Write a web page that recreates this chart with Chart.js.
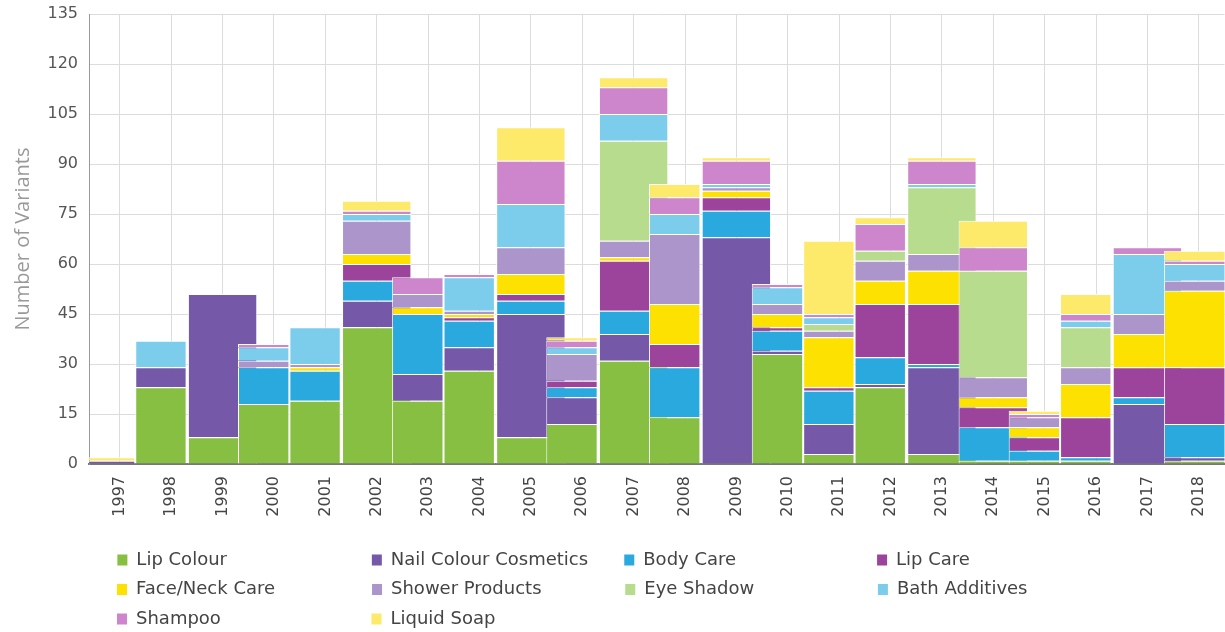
<!DOCTYPE html>
<html>
<head>
<meta charset="utf-8">
<script src="https://cdn.jsdelivr.net/npm/chart.js@4.4.1/dist/chart.umd.min.js"></script>
<style>
  html, body { margin: 0; padding: 0; background: #fff; overflow: hidden; }
  #wrap { position: relative; width: 1230px; height: 638px; }
</style>
</head>
<body>
<div id="wrap"><canvas id="myChart"></canvas></div>
<script>
const years = ['1997', '1998', '1999', '2000', '2001', '2002', '2003', '2004', '2005', '2006', '2007',
               '2008', '2009', '2010', '2011', '2012', '2013', '2014', '2015', '2016', '2017', '2018'];

const seriesNames = ['Lip Colour', 'Nail Colour Cosmetics', 'Body Care', 'Lip Care', 'Face/Neck Care',
                     'Shower Products', 'Eye Shadow', 'Bath Additives', 'Shampoo', 'Liquid Soap'];
const colours = ['#86bf42', '#7559a8', '#29a9de', '#9c449c', '#fde100',
                 '#ab95cb', '#b7dc8e', '#7ccdec', '#cd85cc', '#fde96a'];

// values per year, 1997 .. 2018 (stack order: first series at the bottom)
const lipColour     = [0, 23, 8, 18, 19, 41, 19, 28, 8, 12, 31, 14, 0, 33, 3, 23, 3, 1, 1, 1, 0, 1];
const nailColour    = [1, 6, 43, 0, 0, 8, 8, 7, 37, 8, 8, 0, 68, 1, 9, 1, 26, 0, 0, 0, 18, 1];
const bodyCare      = [0, 0, 0, 11, 9, 6, 18, 8, 4, 3, 7, 15, 8, 6, 10, 8, 1, 10, 3, 1, 2, 10];
const lipCare       = [0, 0, 0, 0, 0, 5, 0, 1, 2, 2, 15, 7, 4, 1, 1, 16, 18, 6, 4, 12, 9, 17];
const faceNeckCare  = [0, 0, 0, 0, 1, 3, 2, 1, 6, 0, 1, 12, 2, 4, 15, 7, 10, 3, 3, 10, 10, 23];
const showerProd    = [0, 0, 0, 2, 1, 10, 4, 1, 8, 8, 5, 21, 1, 3, 2, 6, 5, 6, 3, 5, 6, 3];
const eyeShadow     = [0, 0, 0, 0, 0, 0, 0, 0, 0, 0, 30, 0, 0, 0, 2, 3, 20, 32, 0, 12, 0, 0];
const bathAdditives = [0, 8, 0, 4, 11, 2, 0, 10, 13, 2, 8, 6, 1, 5, 2, 0, 1, 0, 0, 2, 18, 5];
const shampoo       = [0, 0, 0, 1, 0, 1, 5, 1, 13, 2, 8, 5, 7, 1, 1, 8, 7, 7, 1, 2, 2, 1];
const liquidSoap    = [1, 0, 0, 0, 0, 3, 0, 0, 10, 1, 3, 4, 1, 0, 22, 2, 1, 8, 1, 6, 0, 3];

const yMax = 135;
const yStep = 15;

const seriesValues = [lipColour, nailColour, bodyCare, lipCare, faceNeckCare,
                      showerProd, eyeShadow, bathAdditives, shampoo, liquidSoap];

// every bar in the original is wider than its slot and gets covered by the next year,
// so it only sticks out where the next year is shorter -> draw those in a lower layer
const totals = years.map((_, i) => seriesValues.reduce((s, arr) => s + arr[i], 0));
const layerOf = [];
years.forEach((_, i) => {
    const wide = i === years.length - 1 || totals[i + 1] < totals[i];
    layerOf.push(!wide ? 'A' : (layerOf[i - 1] === 'B' ? 'C' : 'B'));
});
const layers = [
    {id: 'A', axis: 'xn', order: 0, width: 1},
    {id: 'C', axis: 'x', order: 1, width: 1.35},
    {id: 'B', axis: 'x', order: 2, width: 1.35}
];

const datasets = [];
for (const layer of layers) {
    seriesNames.forEach((name, k) => {
        datasets.push({
            label: name,
            data: years.map((_, i) => ({
                x: i,
                y: layerOf[i] === layer.id && seriesValues[k][i] ? seriesValues[k][i] : null
            })),
            backgroundColor: colours[k],
            borderColor: '#ffffff',
            borderWidth: {top: 1, left: 1, right: 1, bottom: 0},
            borderSkipped: false,
            inflateAmount: 0,
            xAxisID: layer.axis,
            order: layer.order,
            grouped: false,
            barPercentage: layer.width,
            categoryPercentage: 1,
            clip: 0
        });
    });
}

// legend in fixed columns: pad the texts so every item takes its column width
const family = "'DejaVu Sans', sans-serif";
const legendFontSize = 18;
const measureCtx = document.createElement('canvas').getContext('2d');
measureCtx.font = 'normal ' + legendFontSize + 'px ' + family;
const padLabel = (text, target) => {
    let s = text;
    while (measureCtx.measureText(s + ' ').width <= target) s += ' ';
    for (let g = 0; g < 20 && measureCtx.measureText(s).width < target - 0.8; g++) {
        const w0 = measureCtx.measureText(s).width;
        s += '\u200A';
        if (measureCtx.measureText(s).width <= w0) break;
    }
    return s;
};
const columnTargets = [224.5, 222.5, 222.5, 216];
const legendText = seriesNames.map((name, k) =>
    padLabel(name, k === seriesNames.length - 1 ? 722 : columnTargets[k % 4]));

const ctx = document.getElementById('myChart').getContext('2d');
const chart = new Chart(ctx, {
    type: 'bar',
    data: { datasets: datasets },
    options: {
        responsive: true,
        maintainAspectRatio: false,
        animation: false,
        layout: { padding: {top: 14, left: 0, right: 0, bottom: 0} },
        scales: {
            x: {
                type: 'linear',
                min: -0.6,
                max: years.length - 0.5,
                offset: false,
                stacked: true,
                afterFit: (scale) => { scale.height = 75.5; },
                ticks: {
                    stepSize: 1,
                    includeBounds: false,
                    autoSkip: false,
                    minRotation: 90,
                    maxRotation: 90,
                    padding: 12,
                    color: '#444',
                    font: { size: 16, family: family },
                    callback: (v) => years[v]
                },
                grid: { color: '#dcdcdc', drawTicks: false, offset: false },
                border: { color: '#777', width: 2 }
            },
            xn: {
                type: 'linear',
                display: false,
                min: -0.4,
                max: years.length - 0.3,
                offset: false,
                stacked: true,
                grid: { offset: false },
                ticks: { stepSize: 1, includeBounds: false }
            },
            y: {
                min: 0,
                max: yMax,
                stacked: true,
                afterFit: (scale) => {
                    scale.width = 89;
                    scale.paddingTop = 0;
                    scale.paddingBottom = 0;
                },
                ticks: {
                    stepSize: yStep,
                    padding: 11,
                    color: '#555',
                    font: { size: 16, family: family }
                },
                grid: { color: '#dcdcdc', drawTicks: false },
                border: { color: '#999', width: 1 },
                title: {
                    display: true,
                    text: 'Number of Variants',
                    color: '#999',
                    font: { size: 20, family: "'Open Sans', sans-serif" },
                    padding: { top: 11, bottom: 0 }
                }
            }
        },
        plugins: {
            tooltip: { enabled: false },
            legend: {
                position: 'bottom',
                align: 'center',
                onClick: null,
                labels: {
                    boxWidth: 10,
                    boxHeight: 11,
                    padding: 11.5,
                    color: '#444',
                    font: { size: legendFontSize, family: family },
                    generateLabels: () => seriesNames.map((name, k) => ({
                        text: legendText[k],
                        fillStyle: colours[k],
                        strokeStyle: colours[k],
                        fontColor: '#444',
                        lineWidth: 0,
                        hidden: false,
                        datasetIndex: k
                    }))
                }
            }
        }
    }
});
</script>
</body>
</html>
